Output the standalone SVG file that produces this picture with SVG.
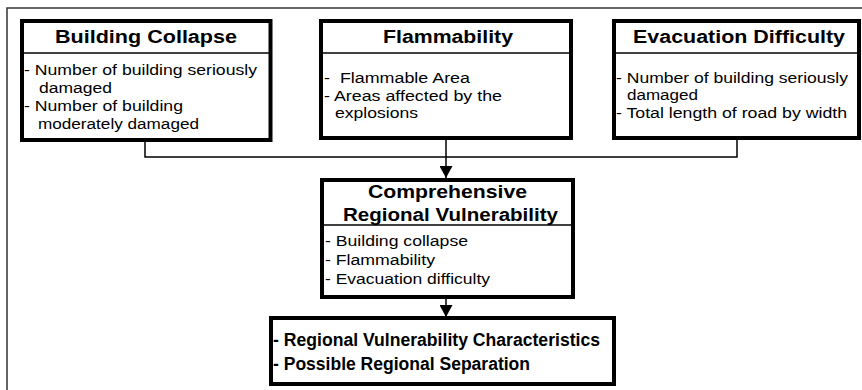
<svg xmlns="http://www.w3.org/2000/svg" width="862" height="390" viewBox="0 0 862 390">
<style>
.frame{fill:none;stroke:#333;stroke-width:1.5}
.box{fill:#fff;stroke:#000;stroke-width:4}
.div{stroke:#000;stroke-width:1.5}
.t{font-family:"Liberation Sans",Arial,sans-serif;font-weight:bold;font-size:18px;fill:#000}
.b{font-family:"Liberation Sans",Arial,sans-serif;font-size:15.5px;fill:#000}
.f{font-family:"Liberation Sans",Arial,sans-serif;font-weight:bold;font-size:18px;fill:#000}
.c{fill:none;stroke:#000;stroke-width:1.5}
</style>
<defs>
<marker id="arr" viewBox="0 0 12 13" refX="12" refY="6.5" markerWidth="12" markerHeight="13" markerUnits="userSpaceOnUse" orient="auto">
<path d="M0,0 L12,6.5 L0,13 Z" fill="#000"/>
</marker>
</defs>
<rect width="862" height="390" fill="#fff"/>
<path class="frame" d="M7,392 L7,8 L864,8"/>
<g id="connectors">
<path class="c" d="M145,140 L145,157 L737,157 L737,138"/>
<path class="c" d="M446,138 L446,178" marker-end="url(#arr)"/>
<path class="c" d="M446,297 L446,317" marker-end="url(#arr)"/>
</g>
<g id="building-collapse">
<rect class="box" x="22" y="21" width="248.5" height="119"/>
<line class="div" x1="22" y1="53" x2="270.5" y2="53"/>
<text class="t" x="55" y="43" textLength="182" lengthAdjust="spacingAndGlyphs">Building Collapse</text>
<text class="b" x="24" y="75" textLength="233" lengthAdjust="spacingAndGlyphs">- Number of building seriously</text>
<text class="b" x="39" y="92.5" textLength="73" lengthAdjust="spacingAndGlyphs">damaged</text>
<text class="b" x="24" y="110.5" textLength="159" lengthAdjust="spacingAndGlyphs">- Number of building</text>
<text class="b" x="38" y="128.5" textLength="161" lengthAdjust="spacingAndGlyphs">moderately damaged</text>
</g>
<g id="flammability">
<rect class="box" x="321" y="21" width="250" height="117"/>
<line class="div" x1="321" y1="53" x2="571" y2="53"/>
<text class="t" x="383" y="43" textLength="130" lengthAdjust="spacingAndGlyphs">Flammability</text>
<text class="b" x="324" y="82.5" textLength="146" lengthAdjust="spacingAndGlyphs" xml:space="preserve">-  Flammable Area</text>
<text class="b" x="324" y="100.5" textLength="178" lengthAdjust="spacingAndGlyphs">- Areas affected by the</text>
<text class="b" x="335" y="117.5" textLength="83" lengthAdjust="spacingAndGlyphs">explosions</text>
</g>
<g id="evacuation-difficulty">
<rect class="box" x="614" y="21" width="245" height="117"/>
<line class="div" x1="614" y1="53" x2="859" y2="53"/>
<text class="t" x="633" y="43" textLength="212" lengthAdjust="spacingAndGlyphs">Evacuation Difficulty</text>
<text class="b" x="616" y="82.5" textLength="232" lengthAdjust="spacingAndGlyphs">- Number of building seriously</text>
<text class="b" x="627" y="99.5" textLength="71" lengthAdjust="spacingAndGlyphs">damaged</text>
<text class="b" x="616" y="117.5" textLength="231" lengthAdjust="spacingAndGlyphs">- Total length of road by width</text>
</g>
<g id="comprehensive">
<rect class="box" x="322" y="180" width="251" height="117"/>
<line class="div" x1="322" y1="225" x2="573" y2="225"/>
<text class="t" x="368" y="197.5" textLength="159" lengthAdjust="spacingAndGlyphs">Comprehensive</text>
<text class="t" x="343" y="220.5" textLength="215" lengthAdjust="spacingAndGlyphs">Regional Vulnerability</text>
<text class="b" x="325" y="245.5" textLength="143" lengthAdjust="spacingAndGlyphs">- Building collapse</text>
<text class="b" x="325" y="264.5" textLength="110" lengthAdjust="spacingAndGlyphs">- Flammability</text>
<text class="b" x="325" y="283.5" textLength="165" lengthAdjust="spacingAndGlyphs">- Evacuation difficulty</text>
</g>
<g id="result">
<rect class="box" x="271" y="318" width="343" height="66"/>
<text class="f" x="273" y="346" textLength="327" lengthAdjust="spacingAndGlyphs">- Regional Vulnerability Characteristics</text>
<text class="f" x="273" y="370" textLength="257" lengthAdjust="spacingAndGlyphs">- Possible Regional Separation</text>
</g>
</svg>
